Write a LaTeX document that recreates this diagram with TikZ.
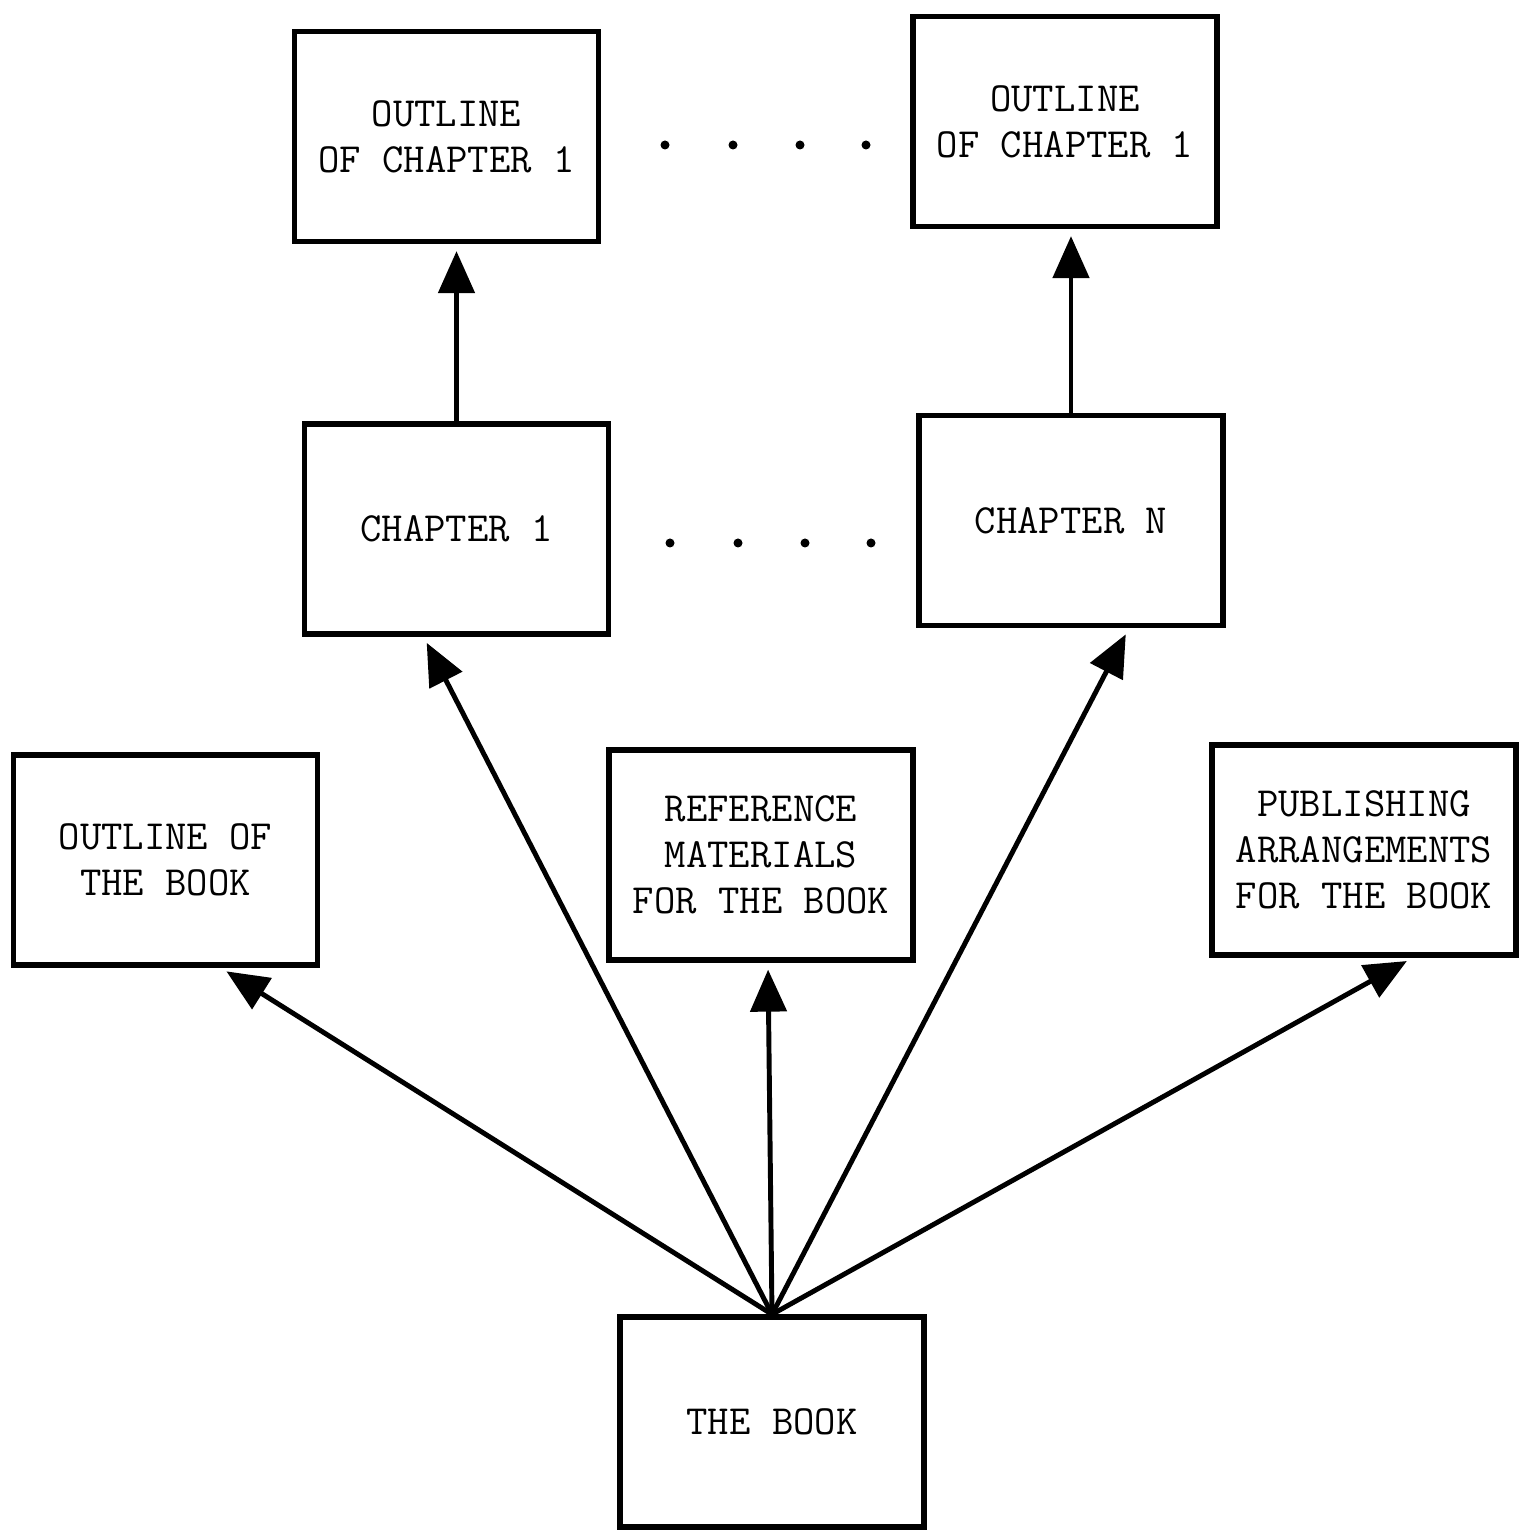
\documentclass[tikz,border=0pt]{standalone}
\usetikzlibrary{arrows.meta}
\tikzset{
  bookbox/.style={draw, line width=1.5pt, minimum width=3.04cm, minimum height=2.1cm,
    align=center, font=\ttfamily\fontsize{11.8}{13.1}\selectfont},
  arr/.style={line width=1.4pt, -{Triangle[length=4.2mm, width=3.6mm]}, shorten >=0.7mm}
}
\begin{document}
\begin{tikzpicture}
\useasboundingbox (0,0) rectangle (15.22,15.32);
% boxes
\node[bookbox] (olcone) at (4.465,13.955) {OUTLINE\\OF CHAPTER 1};
\node[bookbox] (olcn) at (10.65,14.105) {OUTLINE\\OF CHAPTER 1};
\node[bookbox] (chone) at (4.565,10.03) {CHAPTER 1};
\node[bookbox] (chn) at (10.71,10.115) {CHAPTER N};
\node[bookbox] (olbook) at (1.655,6.72) {OUTLINE OF\\THE BOOK};
\node[bookbox] (refmat) at (7.61,6.77) {REFERENCE\\MATERIALS\\FOR THE BOOK};
\node[bookbox] (publ) at (13.64,6.82) {PUBLISHING\\ARRANGEMENTS\\FOR THE BOOK};
\node[bookbox] (book) at (7.72,1.1) {THE BOOK};
% dots
\foreach \x in {6.65,7.33,8.0,8.66} \fill (\x,13.87) circle (0.045);
\foreach \x in {6.7,7.38,8.05,8.71} \fill (\x,9.89) circle (0.045);
% arrows
\draw[arr] (book.north) -- ([xshift=5.5mm]olbook.south);
\draw[arr] (book.north) -- ([xshift=-3.3mm]chone.south);
\draw[arr] (book.north) -- ([xshift=0.7mm]refmat.south);
\draw[arr] (book.north) -- ([xshift=5.8mm]chn.south);
\draw[arr] (book.north) -- ([xshift=4.9mm]publ.south);
\draw[arr] (chone.north) -- (chone.north |- olcone.south);
\draw[arr] (chn.north) -- (chn.north |- olcn.south);
\end{tikzpicture}
\end{document}
